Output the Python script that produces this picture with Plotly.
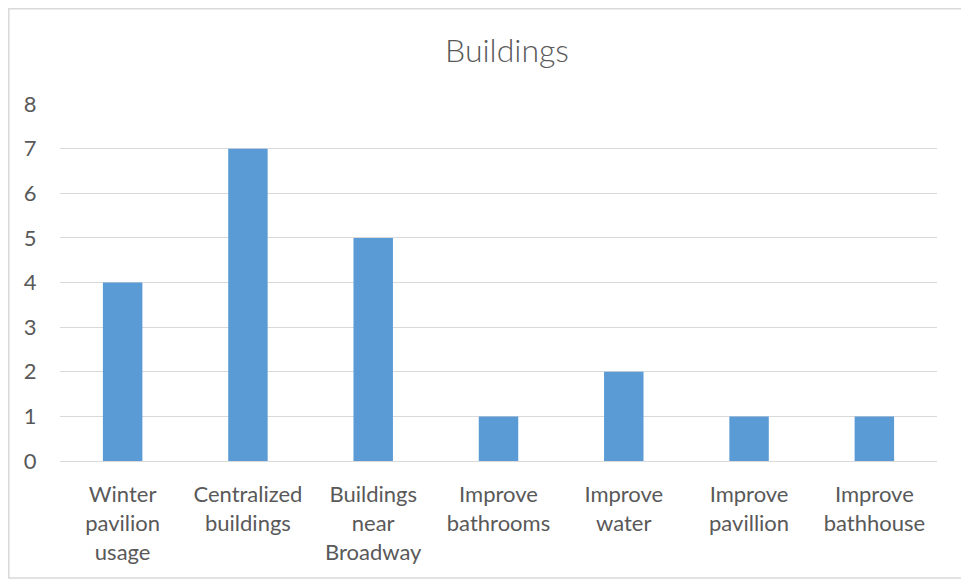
import plotly.graph_objects as go

categories = ["Winter<br>pavilion<br>usage", "Centralized<br>buildings", "Buildings<br>near<br>Broadway",
              "Improve<br>bathrooms", "Improve<br>water", "Improve<br>pavillion", "Improve<br>bathhouse"]
values = [4, 7, 5, 1, 2, 1, 1]
y_ticks = [0, 1, 2, 3, 4, 5, 6, 7, 8]

# page has an 8px body margin, so the figure is drawn 8px in from the window edge
OFF = 8
W, H = 969 - OFF, 582 - OFF
L, T = 60 - OFF, 104 - OFF
pw, ph = 877, 357
R, B = W - L - pw, H - T - ph

def px(x):
    return (x - OFF - L) / pw

def py(y):
    return (H - B - (y - OFF)) / ph

fig = go.Figure(go.Bar(x=categories, y=values, marker_color="#5b9bd5", marker_line_width=0))

fig.update_layout(
    width=W, height=H,
    margin=dict(l=L, r=R, t=T, b=B),
    paper_bgcolor="white", plot_bgcolor="white",
    bargap=0.685,
    font=dict(family="Lato, 'Open Sans', sans-serif", color="#595959", size=22),
    title=dict(text="Buildings", x=(507 - OFF) / W, xanchor="center", y=1 - (51 - OFF) / H, yanchor="middle",
               font=dict(size=32, color="#595959", weight=300)),
    showlegend=False,
    shapes=[dict(type="rect", xref="paper", yref="paper",
                 x0=px(8.8), x1=px(965), y0=py(578), y1=py(8.8),
                 line=dict(color="#d9d9d9", width=1.5), fillcolor="rgba(0,0,0,0)", layer="below")],
)
fig.update_xaxes(showgrid=False, showline=True, linecolor="#d9d9d9", linewidth=1,
                 ticks="outside", ticklen=14, tickcolor="rgba(0,0,0,0)",
                 tickfont=dict(size=22, color="#595959"), tickangle=0)
fig.update_yaxes(range=[0, 8], tickvals=y_ticks, showgrid=True, gridcolor="#d9d9d9", gridwidth=1,
                 zeroline=False, showline=False, ticks="outside", ticklen=18,
                 tickcolor="rgba(0,0,0,0)", tickfont=dict(size=22, color="#595959"))

fig.write_html("out.html")
